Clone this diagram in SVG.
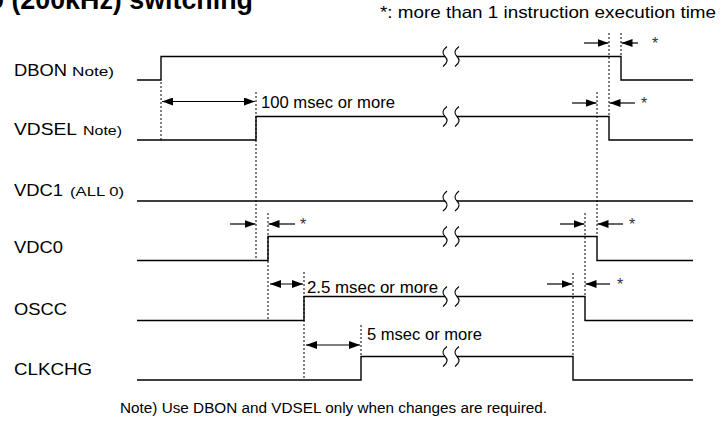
<svg xmlns="http://www.w3.org/2000/svg" width="723" height="423" viewBox="0 0 723 423">
<style>
text{font-family:"Liberation Sans",Arial,sans-serif;fill:#000}
.lbl{font-size:16.5px}
.sm{font-size:13px}
.ms{font-size:16.5px}
.ast{font-size:16px;fill:#333}
.sig{fill:none;stroke:#000;stroke-width:1.4}
.brk{fill:none;stroke:#000;stroke-width:1.1}
.dash{fill:none;stroke:#000;stroke-width:1;stroke-dasharray:2 2}
.arr{fill:none;stroke:#000;stroke-width:1.2}
.one{marker-end:url(#ah)}
.two{marker-start:url(#ah);marker-end:url(#ah)}
</style>
<defs>
<marker id="ah" markerUnits="userSpaceOnUse" markerWidth="12" markerHeight="8" refX="11" refY="4" orient="auto-start-reverse">
<path d="M0,0 L11,4 L0,8 z" fill="#000"/>
</marker>
<path id="bk" class="brk" d="M2,-10 C-3,-6 -3,-3 0,0 C3,3 3,6 -2,10"/>
</defs>
<rect width="723" height="423" fill="#fff"/>

<text x="-11" y="8.5" font-size="27" font-weight="bold" textLength="264" lengthAdjust="spacingAndGlyphs">9 (200kHz) switching</text>
<text x="380" y="18" class="ms" textLength="336" lengthAdjust="spacingAndGlyphs">*: more than 1 instruction execution time</text>

<g id="DBON">
<text x="14" y="75.5" class="lbl" textLength="53" lengthAdjust="spacingAndGlyphs">DBON</text>
<text x="72" y="75.5" class="sm" textLength="42" lengthAdjust="spacingAndGlyphs">Note)</text>
<path class="sig" d="M137,80 H161 V56.5 H445 M457,56.5 H621 V80 H693"/>
<use href="#bk" x="445" y="56.5"/><use href="#bk" x="457" y="56.5"/>
</g>

<g id="VDSEL">
<text x="14" y="134.5" class="lbl" textLength="63" lengthAdjust="spacingAndGlyphs">VDSEL</text>
<text x="83" y="134.5" class="sm" textLength="39" lengthAdjust="spacingAndGlyphs">Note)</text>
<path class="sig" d="M137,140 H256 V116.5 H445 M457,116.5 H609 V140 H693"/>
<use href="#bk" x="445" y="116.5"/><use href="#bk" x="457" y="116.5"/>
</g>

<g id="VDC1">
<text x="14" y="196" class="lbl" textLength="49" lengthAdjust="spacingAndGlyphs">VDC1</text>
<text x="70" y="196" class="sm" textLength="54" lengthAdjust="spacingAndGlyphs">(ALL 0)</text>
<path class="sig" d="M137,201 H445 M457,201 H693"/>
<use href="#bk" x="445" y="201"/><use href="#bk" x="457" y="201"/>
</g>

<g id="VDC0">
<text x="14" y="253" class="lbl" textLength="49" lengthAdjust="spacingAndGlyphs">VDC0</text>
<path class="sig" d="M137,260.5 H268 V236.5 H445 M457,236.5 H597 V260.5 H693"/>
<use href="#bk" x="445" y="236.5"/><use href="#bk" x="457" y="236.5"/>
</g>

<g id="OSCC">
<text x="14" y="314.5" class="lbl" textLength="53" lengthAdjust="spacingAndGlyphs">OSCC</text>
<path class="sig" d="M137,320.5 H304 V296.5 H445 M457,296.5 H585 V320.5 H693"/>
<use href="#bk" x="445" y="296.5"/><use href="#bk" x="457" y="296.5"/>
</g>

<g id="CLKCHG">
<text x="14" y="375" class="lbl" textLength="78" lengthAdjust="spacingAndGlyphs">CLKCHG</text>
<path class="sig" d="M137,380 H361 V356.5 H445 M457,356.5 H573 V380 H693"/>
<use href="#bk" x="445" y="356.5"/><use href="#bk" x="457" y="356.5"/>
</g>

<g id="connectors">
<path class="dash" d="M161,82 V140 M256,92 V260 M268,213 V320 M304,272 V380 M361,325 V357 M621,33 V57 M609,33 V117 M597,92 V237 M585,213 V297 M573,273 V357"/>
<line class="arr two" x1="162" y1="101.5" x2="255" y2="101.5"/>
<line class="arr two" x1="270" y1="284" x2="303" y2="284"/>
<line class="arr two" x1="306" y1="345" x2="360" y2="345"/>

<line class="arr one" x1="584" y1="43" x2="608.5" y2="43"/>
<line class="arr one" x1="638" y1="43" x2="621.5" y2="43"/>
<line class="arr one" x1="572" y1="103" x2="596.5" y2="103"/>
<line class="arr one" x1="635" y1="103" x2="609.5" y2="103"/>
<line class="arr one" x1="230" y1="224" x2="255.5" y2="224"/>
<line class="arr one" x1="295" y1="224" x2="268.5" y2="224"/>
<line class="arr one" x1="560" y1="224" x2="584.5" y2="224"/>
<line class="arr one" x1="623" y1="224" x2="597.5" y2="224"/>
<line class="arr one" x1="547" y1="284" x2="572.5" y2="284"/>
<line class="arr one" x1="610" y1="284" x2="585.5" y2="284"/>

<text x="652" y="49" class="ast">*</text>
<text x="641" y="109" class="ast">*</text>
<text x="300" y="230" class="ast">*</text>
<text x="629" y="230" class="ast">*</text>
<text x="617" y="290" class="ast">*</text>

<text x="261" y="108" class="ms" textLength="134" lengthAdjust="spacingAndGlyphs">100 msec or more</text>
<text x="307" y="293" class="ms" textLength="131" lengthAdjust="spacingAndGlyphs">2.5 msec or more</text>
<text x="367" y="340" class="ms" textLength="115" lengthAdjust="spacingAndGlyphs">5 msec or more</text>
</g>

<text x="120" y="413" font-size="15.3">Note) Use DBON and VDSEL only when changes are required.</text>
</svg>
